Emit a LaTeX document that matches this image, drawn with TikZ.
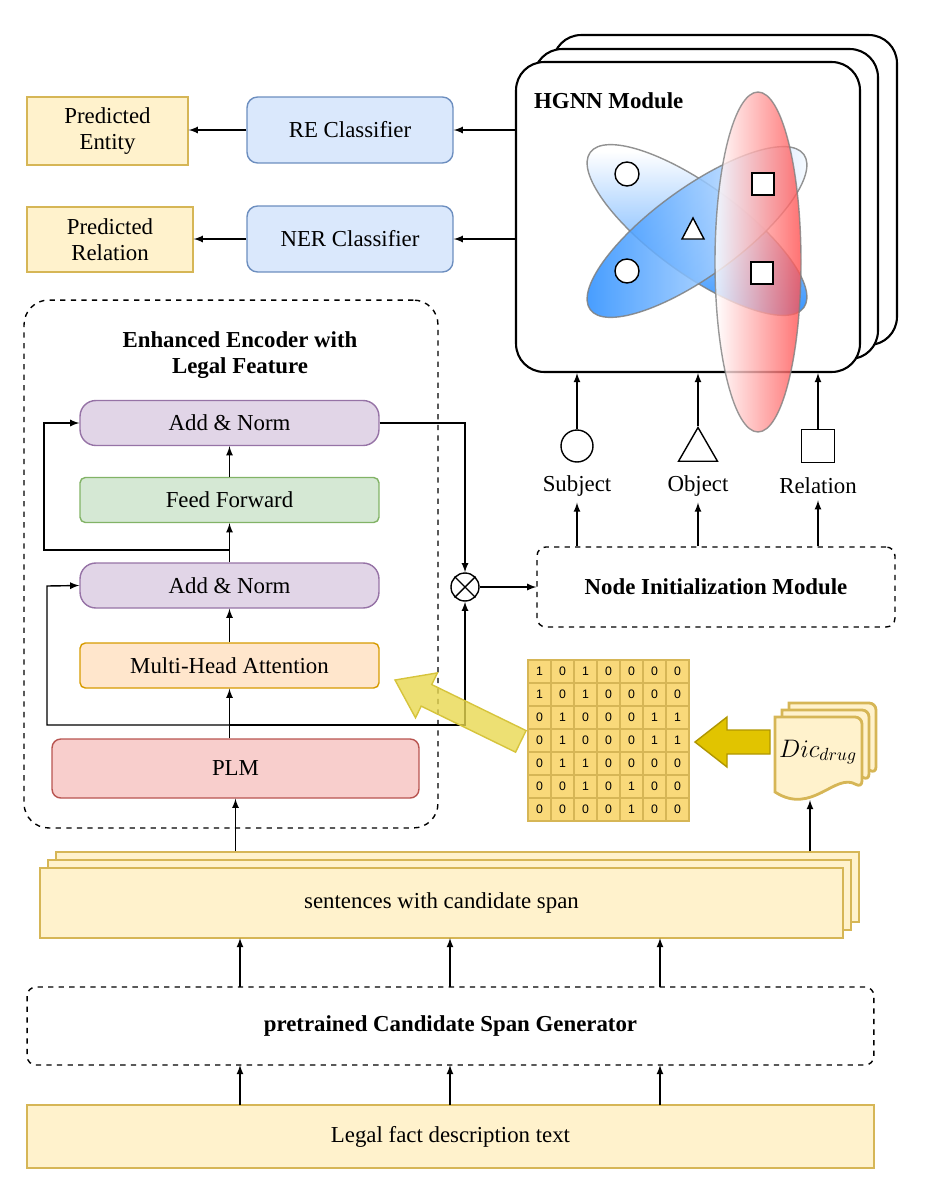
\documentclass[tikz,border=0pt]{standalone}
\usepackage{fontspec}
\setmainfont{Liberation Serif}
\newfontfamily\digitfont{Liberation Sans}
\usepackage{tikz}
\usetikzlibrary{positioning,shapes.geometric}
\definecolor{ylwfill}{HTML}{FFF2CC}
\definecolor{ylwline}{HTML}{D6B656}
\definecolor{bluefill}{HTML}{DAE8FC}
\definecolor{blueline}{HTML}{6C8EBF}
\definecolor{purpfill}{HTML}{E1D5E7}
\definecolor{purpline}{HTML}{9673A6}
\definecolor{grnfill}{HTML}{D5E8D4}
\definecolor{grnline}{HTML}{82B366}
\definecolor{orgfill}{HTML}{FFE6CC}
\definecolor{orgline}{HTML}{D79B00}
\definecolor{redfill}{HTML}{F8CECC}
\definecolor{redline}{HTML}{B85450}
\definecolor{cellfill}{HTML}{F9D97A}
\tikzset{
  txt/.style={font=\fontsize{13}{15}\selectfont},
  outbox/.style={draw=ylwline, fill=ylwfill, thick, txt, align=center},
  clsbox/.style={draw=blueline, fill=bluefill, thick, rounded corners=6pt, txt, minimum width=4.12cm, minimum height=1.32cm},
  layer/.style={thick, txt, minimum width=5.98cm, minimum height=0.9cm, rounded corners=9pt},
  dashbox/.style={draw, dashed, thick, rounded corners=5pt, txt, font=\fontsize{13}{15}\selectfont\bfseries},
  hgnn/.style={draw, line width=1.2pt, fill=white, rounded corners=16pt, minimum width=6.88cm, minimum height=6.2cm},
  arr/.style={->, >=latex, thick},
}
\begin{document}
\begin{tikzpicture}[x=0.02cm, y=-0.02cm]
\useasboundingbox (0,0) rectangle (931,1200);
% Outputs and classifiers
\node[outbox, minimum width=3.22cm, minimum height=1.36cm] (pent) at (107.5,131) {Predicted\\Entity};
\node[outbox, minimum width=3.32cm, minimum height=1.3cm] (prel) at (110,239.5) {Predicted\\Relation};
\node[clsbox] (re) at (350,130) {RE Classifier};
\node[clsbox] (ner) at (350,239) {NER Classifier};
% HGNN stack
\node[hgnn] (hgnnc) at (725,190) {};
\node[hgnn] (hgnnb) at (706,204) {};
\node[hgnn] (hgnn) at (688,217) {};
\node[font=\fontsize{13}{15}\selectfont\bfseries, anchor=west] (hgnnlbl) at (528,101) {HGNN Module};
\draw[gray, thick, opacity=0.85, left color=white, right color={rgb,255:red,30;green,136;blue,255}, shading angle=0, rotate around={-36:(697,230)}] (697,230) ellipse (132 and 44);
\draw[gray, thick, opacity=0.85, left color={rgb,255:red,30;green,136;blue,255}, right color=white, rotate around={36:(697,232)}] (697,232) ellipse (132 and 44);
\draw[gray, thick, opacity=0.8, left color=white, right color={rgb,255:red,255;green,80;blue,80}] (758,262) ellipse (43 and 170);
\draw[thick, fill=white] (627,174) circle (12);
\draw[thick, fill=white] (627,271) circle (12);
\draw[thick, fill=white] (682,239) -- (704,239) -- (693,218) -- cycle;
\draw[thick, fill=white] (752,173) rectangle (774,195);
\draw[thick, fill=white] (751,262) rectangle (773,284);
\draw[arr] (hgnn.west |- re) -- (re.east);
\draw[arr] (hgnn.west |- ner) -- (ner.east);
\draw[arr] (re.west) -- (pent.east |- re);
\draw[arr] (ner.west) -- (prel.east |- ner);
% Node inputs
\node[draw, thick, circle, minimum size=0.64cm, inner sep=0] (subj) at (577,446) {};
\node[draw, thick, regular polygon, regular polygon sides=3, minimum size=0.9cm, inner sep=0] (obj) at (698,450) {};
\node[draw, thick, minimum size=0.66cm, inner sep=0] (rel) at (818,446) {};
\node[txt] (subjlbl) at (577,486) {Subject};
\node[txt] (objlbl) at (698,486) {Object};
\node[txt] (rellbl) at (818,486) {Relation};
\draw[arr] (subj.north) -- (subj |- hgnn.south);
\draw[arr] (obj.north) -- (obj |- hgnn.south);
\draw[arr] (rel.north) -- (rel |- hgnn.south);
\node[dashbox, minimum width=7.16cm, minimum height=1.6cm] (nim) at (716,587) {Node Initialization Module};
\draw[arr] (nim.north -| subjlbl) -- (subjlbl.south);
\draw[arr] (nim.north -| objlbl) -- (objlbl.south);
\draw[arr] (nim.north -| rellbl) -- (rellbl.south);
\node[draw, thick, circle, minimum size=0.56cm, inner sep=0] (mul) at (465,587) {};
\draw[thick] (mul.north west) -- (mul.south east) (mul.north east) -- (mul.south west);
\draw[arr] (mul.east) -- (nim.west);
% Encoder
\node[dashbox, minimum width=8.28cm, minimum height=10.56cm, rounded corners=14pt] (enc) at (231,564) {};
\node[font=\fontsize{13}{15}\selectfont\bfseries, align=center] (enclbl) at (240,355) {Enhanced Encoder with\\Legal Feature};
\node[layer, draw=purpline, fill=purpfill] (an1) at (229.5,423) {Add \& Norm};
\node[layer, draw=grnline, fill=grnfill, rounded corners=3pt] (ff) at (229.5,500) {Feed Forward};
\node[layer, draw=purpline, fill=purpfill] (an2) at (229.5,585.5) {Add \& Norm};
\node[layer, draw=orgline, fill=orgfill, rounded corners=3pt] (mha) at (229.5,665.5) {Multi-Head Attention};
\node[thick, draw=redline, fill=redfill, rounded corners=5pt, txt, minimum width=7.34cm, minimum height=1.18cm] (plm) at (235.5,768.5) {PLM};
\draw[arr] (plm.north -| mha) -- (mha.south);
\draw[arr] (mha.north) -- (an2.south);
\draw[arr] (an2.north) -- (ff.south);
\draw[arr] (ff.north) -- (an1.south);
\coordinate (res1) at (229.5,725);
\coordinate (res2) at (229.5,550);
\draw[arr] (res1) -- (47,725) -- (47,586) -- (an2.west);
\draw[arr] (res2) -- (44,550) -- (44,423) -- (an1.west);
\draw[arr] (res1) -- (465,725) -- (mul.south);
\draw[arr] (an1.east) -- (465,423) -- (mul.north);
% Matrix and dictionary
\foreach \row [count=\r] in {{1,0,1,0,0,0,0},{1,0,1,0,0,0,0},{0,1,0,0,0,1,1},{0,1,0,0,0,1,1},{0,1,1,0,0,0,0},{0,0,1,0,1,0,0},{0,0,0,0,1,0,0}}{
  \foreach \v [count=\c] in \row{
    \node[draw=ylwline, fill=cellfill, thick, minimum size=0.46cm, inner sep=0, font=\digitfont\fontsize{7}{8}\selectfont] (m\r\c) at (528+23*\c-11.5, 660+23*\r-11.5) {\v};
  }
}
\draw[thick, draw={rgb,255:red,214;green,196;blue,60}, fill={rgb,255:red,232;green,216;blue,80}, fill opacity=0.8, shift={(395,680)}, rotate=-26]
  (0,0) -- (35,25) -- (35,12) -- (140,12) -- (140,-12) -- (35,-12) -- (35,-25) -- cycle;
\foreach \d in {14,7,0}{
  \draw[line width=1.6pt, draw=ylwline, fill=ylwfill, rounded corners=4pt] (775+\d,717-\d) -- (862+\d,717-\d) -- (862+\d,788-\d) [sharp corners] .. controls (835+\d,772-\d) and (812+\d,816-\d) .. (775+\d,792-\d) -- cycle;
}
\node[font=\fontsize{14}{16}\selectfont] (dic) at (818,752) {$Dic_{drug}$};
\coordinate (dicbot) at (810,800);
\draw[thick, draw={rgb,255:red,176;green,150;blue,0}, fill={rgb,255:red,225;green,196;blue,0}, shift={(695,742)}]
  (0,0) -- (32,-25) -- (32,-12) -- (75,-12) -- (75,12) -- (32,12) -- (32,25) -- cycle;
% Sentences and generator
\node[outbox, minimum width=16.06cm, minimum height=1.4cm] (sent3) at (457.5,887) {};
\node[outbox, minimum width=16.06cm, minimum height=1.4cm] (sent2) at (449.5,895) {};
\node[outbox, minimum width=16.06cm, minimum height=1.4cm] (sent) at (441.5,903) {sentences with candidate span};
\draw[arr] (plm |- sent3.north) -- (plm.south);
\draw[arr] (dicbot |- sent3.north) -- (dicbot);
\node[dashbox, minimum width=16.94cm, minimum height=1.56cm] (gen) at (450.5,1026) {pretrained Candidate Span Generator};
\node[outbox, minimum width=16.94cm, minimum height=1.26cm] (legal) at (450.5,1136.5) {Legal fact description text};
\foreach \x in {240,450,660}{
  \draw[arr] (\x,987) -- (\x,938);
  \draw[arr] (\x,1105) -- (\x,1065);
}
\end{tikzpicture}
\end{document}
